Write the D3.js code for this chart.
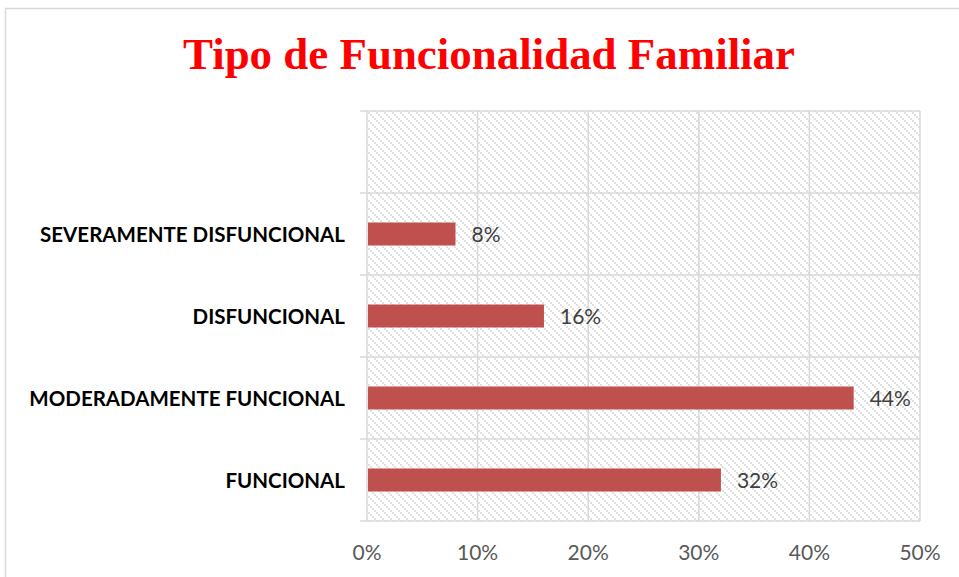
<!DOCTYPE html>
<html>
<head>
<meta charset="utf-8">
<script src="https://cdn.jsdelivr.net/npm/d3@7"></script>
<style>
	body { margin: 0; background: #fff; }
	svg { display: block; }
</style>
</head>
<body>
<svg id="chart" width="959" height="577"></svg>
<script>
// data
var categories = ["", "SEVERAMENTE DISFUNCIONAL", "DISFUNCIONAL", "MODERADAMENTE FUNCIONAL", "FUNCIONAL"];
var values = [null, 0.08, 0.16, 0.44, 0.32];
var ticks = [0, 0.1, 0.2, 0.3, 0.4, 0.5];
var title = "Tipo de Funcionalidad Familiar";

var svg = d3.select("#chart"),
	width = +svg.attr("width"),
	height = +svg.attr("height");

var plot = { left: 367, right: 920, top: 111, bottom: 521 };

// outer chart frame, right and bottom edges run off the picture
svg.append("rect")
	.attr("x", 5.5).attr("y", 8.5)
	.attr("width", 980).attr("height", 600)
	.attr("fill", "#fff")
	.attr("stroke", "#d9d9d9")
	.attr("stroke-width", 1.5);

// hatch pattern for plot area (staircase of small squares)
var defs = svg.append("defs");
var pat = defs.append("pattern")
	.attr("id", "hatch")
	.attr("patternUnits", "userSpaceOnUse")
	.attr("x", 0).attr("y", 0)
	.attr("width", 8).attr("height", 8);
pat.append("rect").attr("width", 8).attr("height", 8).attr("fill", "#fff");
pat.selectAll("rect.dot")
	.data([0, 2, 4, 6])
	.enter().append("rect")
	.attr("class", "dot")
	.attr("x", function(d) { return d; })
	.attr("y", function(d) { return d; })
	.attr("width", 2).attr("height", 2)
	.attr("fill", "#e0e0e0")
	.attr("shape-rendering", "crispEdges");

var x = d3.scaleLinear()
	.domain([0, 0.5])
	.range([plot.left, plot.right]);

var y = d3.scaleBand()
	.domain(categories.map(function(d, i) { return i; }))
	.range([plot.top, plot.bottom])
	.paddingInner(0)
	.paddingOuter(0);

svg.append("rect")
	.attr("x", plot.left).attr("y", plot.top)
	.attr("width", plot.right - plot.left)
	.attr("height", plot.bottom - plot.top)
	.attr("fill", "url(#hatch)");

var g = svg.append("g");

// vertical gridlines
g.selectAll("line.vgrid")
	.data(ticks)
	.enter().append("line")
	.attr("class", "vgrid")
	.attr("x1", function(d) { return x(d); })
	.attr("x2", function(d) { return x(d); })
	.attr("y1", plot.top)
	.attr("y2", plot.bottom)
	.attr("stroke", "#d9d9d9")
	.attr("stroke-width", 1.5);

// horizontal category lines with small ticks on the left
var bounds = categories.map(function(d, i) { return y(i); }).concat([plot.bottom]);
g.selectAll("line.hgrid")
	.data(bounds)
	.enter().append("line")
	.attr("class", "hgrid")
	.attr("x1", plot.left - 7)
	.attr("x2", plot.right)
	.attr("y1", function(d) { return d; })
	.attr("y2", function(d) { return d; })
	.attr("stroke", "#d9d9d9")
	.attr("stroke-width", 1.5);

var rows = categories.map(function(c, i) { return { cat: c, value: values[i], i: i }; })
	.filter(function(d) { return d.value != null; });

var barH = 23;

g.selectAll("rect.bar")
	.data(rows)
	.enter().append("rect")
	.attr("class", "bar")
	.attr("x", x(0) + 1)
	.attr("y", function(d) { return y(d.i) + y.bandwidth() / 2 - barH / 2; })
	.attr("width", function(d) { return x(d.value) - x(0) - 1; })
	.attr("height", barH)
	.attr("fill", "#c0504d");

// value labels
g.selectAll("text.val")
	.data(rows)
	.enter().append("text")
	.attr("class", "val")
	.attr("x", function(d) { return x(d.value) + 16; })
	.attr("y", function(d) { return y(d.i) + y.bandwidth() / 2 + 1; })
	.attr("dy", "0.35em")
	.attr("font-family", "Lato, 'Open Sans', sans-serif")
	.attr("font-size", 21)
	.attr("fill", "#404040")
	.text(function(d) { return Math.round(d.value * 100) + "%"; });

// category labels
g.selectAll("text.cat")
	.data(rows)
	.enter().append("text")
	.attr("class", "cat")
	.attr("x", 345)
	.attr("y", function(d) { return y(d.i) + y.bandwidth() / 2 + 1; })
	.attr("dy", "0.35em")
	.attr("text-anchor", "end")
	.attr("font-family", "Lato, 'Open Sans', sans-serif")
	.attr("font-weight", "bold")
	.attr("font-size", 20.5)
	.attr("fill", "#000")
	.text(function(d) { return d.cat; });

// x axis tick labels
g.selectAll("text.tick")
	.data(ticks)
	.enter().append("text")
	.attr("class", "tick")
	.attr("x", function(d) { return x(d); })
	.attr("y", 553)
	.attr("dy", "0.35em")
	.attr("text-anchor", "middle")
	.attr("font-family", "Lato, 'Open Sans', sans-serif")
	.attr("font-size", 21)
	.attr("fill", "#595959")
	.text(d3.format(".0%"));

// title
svg.append("text")
	.attr("x", 489)
	.attr("y", 69)
	.attr("text-anchor", "middle")
	.attr("font-family", "'Liberation Serif', 'DejaVu Serif', serif")
	.attr("font-weight", "bold")
	.attr("font-size", 45)
	.attr("fill", "#ff0000")
	.attr("textLength", 612)
	.attr("lengthAdjust", "spacingAndGlyphs")
	.text(title);
</script>
</body>
</html>
